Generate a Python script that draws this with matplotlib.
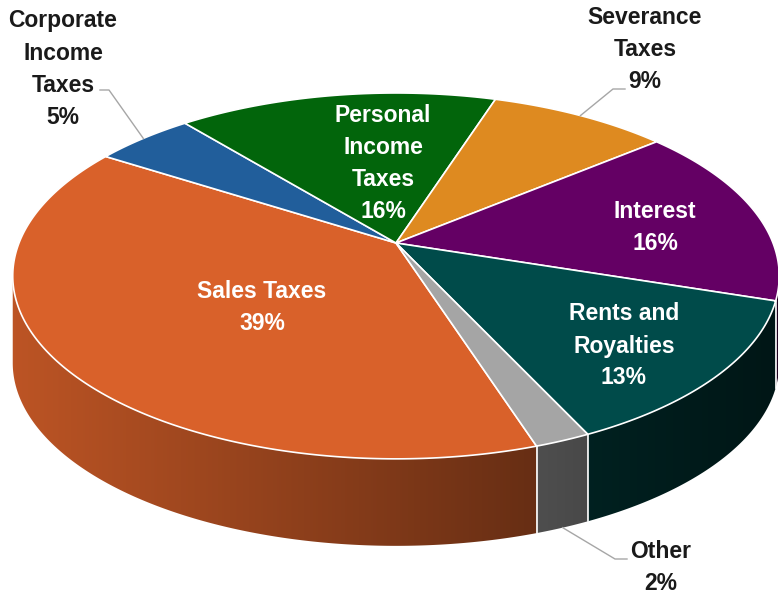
import numpy as np
import matplotlib.pyplot as plt
from matplotlib.patches import Polygon
from matplotlib.colors import to_rgb

# revenue shares, listed clockwise starting with Sales Taxes
labels = ['Sales Taxes', 'Corporate\nIncome\nTaxes', 'Personal\nIncome\nTaxes',
          'Severance\nTaxes', 'Interest', 'Rents and\nRoyalties', 'Other']
values = [39, 5, 16, 9, 16, 13, 2]
colors = ['#D9612A', '#215E9B', '#02650B', '#DE8A20', '#640064', '#004B4A', '#A5A5A5']

# label layout (pixel centres) and whether it sits inside the slice
label_pos = [(262, 307), (63, 69), (383, 163), (645, 50), (655, 227), (624, 346), (661, 568)]
inside = [True, False, True, False, True, True, False]
# leader line elbows for outside labels: (elbow, end)
leaders = {1: ((109, 90), (100, 90)), 3: ((613, 89), (625, 89)), 6: ((615, 559), (627, 559))}

# 3D look of the pie
cx, cy = 396, 243      # apex of the slices on screen
a, b = 377, 177        # radii
p = 0.18               # perspective strength
depth = 87             # thickness of the disc
start = -72            # angle where the first slice begins (clockwise)


def proj(theta, drop=0.0):
    t = np.radians(theta)
    X, Z = np.cos(t), np.sin(t)
    w = 1 + p * Z
    return cx + a * X / w, cy - b * Z / w + drop


def shade(x):
    return np.clip(0.87 - 0.00075 * (x - 10), 0.3, 1.0)


fig = plt.figure(figsize=(7.78, 5.95), dpi=100)
ax = fig.add_axes([0, 0, 1, 1])

total = sum(values)
bounds = start - np.concatenate([[0], np.cumsum(values)]) / total * 360
vis_hi = -np.degrees(np.arcsin(p))
vis_lo = -180 - vis_hi

# side walls: horizontal gradient clipped to each visible piece of the rim
edge_angles = []
for i in range(len(values)):
    t0, t1 = bounds[i], bounds[i + 1]
    base = np.array(to_rgb(colors[i]))
    for k in (-360, 0, 360):
        hi = min(t0 + k, vis_hi)
        lo = max(t1 + k, vis_lo)
        if hi <= lo:
            continue
        if vis_lo < t0 + k < vis_hi:
            edge_angles.append(t0 + k)
        th = np.linspace(hi, lo, 200)
        xs, ys = proj(th)
        pts = list(zip(xs, ys)) + list(zip(xs[::-1], ys[::-1] + depth))
        poly = Polygon(pts, closed=True, facecolor='none', edgecolor='none')
        ax.add_patch(poly)
        x0, x1 = xs.min() - 1, xs.max() + 1
        gx = np.linspace(x0, x1, 300)
        grad = base[None, None, :] * shade(gx)[None, :, None]
        im = ax.imshow(grad, extent=(x0, x1, ys.max() + depth + 1, ys.min() - 1),
                       aspect='auto', interpolation='bilinear', zorder=1)
        im.set_clip_path(poly)

for th in edge_angles:
    x0, y0 = proj(th)
    ax.plot([x0, x0], [y0, y0 + depth], color='white', lw=1.2, zorder=2)

# top faces
for i in range(len(values)):
    th = np.linspace(bounds[i], bounds[i + 1], 200)
    xs, ys = proj(th)
    pts = [(cx, cy)] + list(zip(xs, ys))
    ax.add_patch(Polygon(pts, closed=True, facecolor=colors[i], edgecolor='white',
                         lw=1.2, joinstyle='round', zorder=3))

# labels
for i, lab in enumerate(labels):
    x, y = label_pos[i]
    ax.text(x, y, f'{lab}\n{values[i]}%', ha='center', va='center',
            fontsize=16.5, fontweight='bold', family='Liberation Sans',
            color='white' if inside[i] else '#1A1A1A', linespacing=1.5, zorder=5)

for i, (elbow, end) in leaders.items():
    mid = (bounds[i] + bounds[i + 1]) / 2
    drop = depth if vis_lo < (mid + 360) % 360 - 360 < vis_hi else 0
    ax0, ay0 = proj(mid, drop)
    ax.plot([ax0, elbow[0], end[0]], [ay0, elbow[1], end[1]], color='#A6A6A6',
            lw=1, zorder=4)

ax.set_xlim(0, 778)
ax.set_ylim(595, 0)
ax.axis('off')

fig.savefig('out.png', dpi=100)
